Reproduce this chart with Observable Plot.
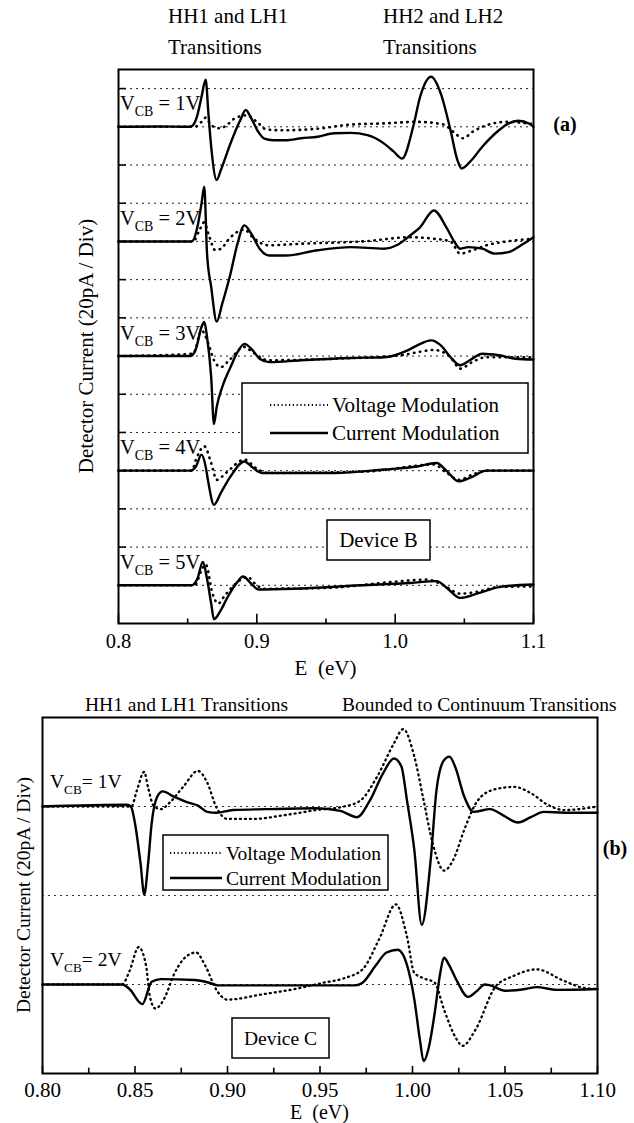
<!DOCTYPE html>
<html>
<head>
<meta charset="utf-8">
<script src="https://cdn.jsdelivr.net/npm/d3@7"></script>
<script src="https://cdn.jsdelivr.net/npm/@observablehq/plot@0.6"></script>
<style>
  html, body { margin: 0; padding: 0; background: #fff; }
  #wrap { position: relative; width: 634px; height: 1123px; overflow: hidden; background: #fff; font-family: 'Liberation Serif', 'Times New Roman', Times, serif; }
  #wrap svg { position: absolute; left: 0; display: block; }
</style>
</head>
<body>
<div id="wrap"></div>
<script>
// ---------------- DATA ----------------
// Panel (a): Device B. Offsets in divisions (20 pA / Div) relative to each trace's baseline.
const vcbLabelsA = ["1V", "2V", "3V", "4V", "5V"];
const baselinesA = [13, 10, 7, 4, 1];
const gridA = [1, 2, 3, 4, 5, 6, 7, 8, 9, 10, 11, 12, 13, 14];
const xTicksA = [0.8, 0.9, 1.0, 1.1];
const xMinorA = [0.85, 0.95, 1.05];

const a1Current = [[0.800,0],[0.830,0.01],[0.850,0],[0.853,0.02],[0.857,0.30],[0.860,0.78],[0.863,1.23],[0.865,0.35],[0.867,-0.52],[0.871,-1.39],[0.874,-1.13],[0.881,-0.43],[0.888,0.17],[0.892,0.44],[0.896,0.22],[0.901,-0.13],[0.905,-0.30],[0.912,-0.35],[0.922,-0.35],[0.932,-0.30],[0.944,-0.26],[0.956,-0.17],[0.968,-0.16],[0.980,-0.22],[0.992,-0.44],[0.999,-0.65],[1.005,-0.83],[1.013,0.0],[1.018,0.78],[1.026,1.31],[1.033,0.87],[1.040,-0.09],[1.045,-0.87],[1.048,-1.09],[1.054,-0.92],[1.063,-0.52],[1.075,-0.09],[1.082,0.09],[1.089,0.16],[1.097,0.08],[1.100,0.0]];
const a1Voltage = [[0.800,0],[0.855,0],[0.860,0.13],[0.863,0.24],[0.866,0.09],[0.870,-0.02],[0.874,-0.04],[0.878,0.04],[0.885,0.24],[0.893,0.30],[0.900,0.13],[0.907,-0.07],[0.919,-0.09],[0.944,-0.05],[0.968,0.06],[0.992,0.09],[1.016,0.13],[1.035,0.06],[1.042,-0.13],[1.049,-0.30],[1.056,-0.13],[1.066,0.04],[1.081,0.13],[1.093,0.10],[1.100,0.07]];

const a2Current = [[0.800,0],[0.853,0],[0.857,0.37],[0.860,0.99],[0.862,1.43],[0.864,-0.32],[0.867,-1.19],[0.871,-2.10],[0.875,-1.63],[0.881,-0.84],[0.886,-0.06],[0.891,0.42],[0.896,0.20],[0.902,-0.19],[0.909,-0.37],[0.921,-0.37],[0.944,-0.23],[0.968,-0.15],[0.992,-0.19],[1.001,-0.10],[1.011,0.16],[1.018,0.37],[1.028,0.81],[1.037,0.37],[1.043,-0.02],[1.047,-0.19],[1.053,-0.15],[1.063,-0.19],[1.072,-0.32],[1.082,-0.28],[1.091,-0.10],[1.100,0.11]];
const a2Voltage = [[0.800,0],[0.854,0],[0.858,0.25],[0.862,0.50],[0.865,0.20],[0.870,-0.23],[0.874,-0.19],[0.881,0.11],[0.891,0.31],[0.897,0.11],[0.908,-0.10],[0.932,-0.06],[0.980,0.01],[1.011,0.11],[1.028,0.07],[1.040,0.0],[1.047,-0.32],[1.056,-0.23],[1.066,-0.10],[1.081,0.0],[1.100,0.07]];

const a3Current = [[0.800,0],[0.852,0],[0.856,0.19],[0.860,0.76],[0.862,0.89],[0.864,0.50],[0.867,-0.55],[0.869,-1.78],[0.871,-1.33],[0.875,-0.81],[0.881,-0.29],[0.886,0.10],[0.891,0.32],[0.897,0.15],[0.902,-0.07],[0.909,-0.16],[0.932,-0.11],[0.968,-0.05],[0.992,-0.03],[1.009,0.15],[1.016,0.28],[1.026,0.41],[1.033,0.28],[1.040,-0.03],[1.047,-0.24],[1.054,-0.11],[1.063,0.06],[1.075,0.02],[1.087,-0.07],[1.100,-0.09]];
const a3Voltage = [[0.800,0],[0.854,0.06],[0.860,0.67],[0.865,0.32],[0.869,-0.11],[0.874,-0.29],[0.880,-0.11],[0.891,0.24],[0.897,0.10],[0.908,-0.11],[0.956,-0.07],[1.004,0.02],[1.016,0.10],[1.028,0.16],[1.040,-0.03],[1.047,-0.33],[1.056,-0.15],[1.066,-0.03],[1.100,-0.03]];

const a4Current = [[0.800,0],[0.852,0],[0.856,0.11],[0.860,0.42],[0.863,0.11],[0.865,-0.32],[0.869,-0.89],[0.874,-0.58],[0.881,-0.15],[0.891,0.24],[0.897,0.08],[0.904,-0.06],[0.956,-0.06],[0.992,0.03],[1.016,0.11],[1.030,0.20],[1.037,0.0],[1.046,-0.28],[1.054,-0.19],[1.066,0.0],[1.100,0]];
const a4Voltage = [[0.800,0],[0.853,0],[0.856,0.29],[0.862,0.64],[0.867,0.20],[0.871,-0.24],[0.878,-0.05],[0.891,0.29],[0.900,0.05],[0.908,-0.06],[0.980,-0.02],[1.028,0.16],[1.037,-0.05],[1.046,-0.24],[1.056,-0.10],[1.066,0.0],[1.100,0]];

const a5Current = [[0.800,0],[0.853,0],[0.857,0.17],[0.861,0.61],[0.864,0.17],[0.867,-0.48],[0.869,-0.89],[0.874,-0.65],[0.879,-0.30],[0.886,0.09],[0.890,0.23],[0.896,0.04],[0.901,-0.11],[0.927,-0.09],[0.975,0.0],[1.011,0.06],[1.030,0.11],[1.038,-0.09],[1.047,-0.33],[1.059,-0.22],[1.076,-0.04],[1.100,0.02]];
const a5Voltage = [[0.800,0],[0.855,0],[0.860,0.39],[0.863,0.55],[0.868,-0.22],[0.872,-0.48],[0.877,-0.26],[0.885,0.05],[0.893,0.22],[0.900,0.0],[0.905,-0.09],[0.950,-0.07],[0.999,0.09],[1.023,0.15],[1.035,0.0],[1.047,-0.22],[1.059,-0.17],[1.076,-0.04],[1.100,-0.03]];

// Panel (b): Device C
const vcbLabelsB = ["1V", "2V"];
const baselinesB = [3, 1];
const gridB = [1, 2, 3];
const xTicksB = [0.80, 0.85, 0.90, 0.95, 1.00, 1.05, 1.10];
const xMinorB = [0.825, 0.875, 0.925, 0.975, 1.025, 1.075];

const b1Current = [[0.800,0],[0.846,0.02],[0.848,-0.01],[0.850,-0.19],[0.853,-0.64],[0.855,-0.99],[0.857,-0.66],[0.859,-0.19],[0.862,0.11],[0.865,0.17],[0.871,0.11],[0.878,0.05],[0.884,0.01],[0.889,-0.06],[0.894,-0.07],[0.903,-0.04],[0.921,-0.03],[0.948,-0.02],[0.961,-0.05],[0.970,-0.12],[0.977,0.07],[0.984,0.37],[0.990,0.54],[0.994,0.45],[0.997,0.07],[1.001,-0.49],[1.005,-1.33],[1.010,-0.56],[1.013,0.19],[1.017,0.52],[1.020,0.56],[1.023,0.45],[1.028,0.11],[1.033,-0.06],[1.042,-0.03],[1.049,-0.10],[1.057,-0.18],[1.064,-0.12],[1.071,-0.06],[1.082,-0.07],[1.100,-0.07]];
const b1Voltage = [[0.800,0],[0.848,0],[0.851,0.18],[0.855,0.39],[0.857,0.22],[0.860,0.01],[0.864,-0.03],[0.869,0.05],[0.876,0.22],[0.884,0.40],[0.889,0.27],[0.894,-0.01],[0.900,-0.14],[0.914,-0.14],[0.930,-0.10],[0.948,-0.04],[0.963,0.0],[0.972,0.07],[0.981,0.34],[0.990,0.71],[0.995,0.87],[1.001,0.56],[1.006,0.07],[1.011,-0.42],[1.017,-0.72],[1.022,-0.60],[1.028,-0.26],[1.035,0.06],[1.044,0.19],[1.055,0.22],[1.064,0.15],[1.073,0.02],[1.082,-0.04],[1.100,0.0]];

const b2Current = [[0.800,0],[0.843,0],[0.847,-0.05],[0.854,-0.22],[0.859,0.03],[0.864,0.06],[0.882,0.05],[0.890,0.02],[0.895,-0.01],[0.969,-0.01],[0.973,0.02],[0.980,0.21],[0.986,0.36],[0.992,0.39],[0.997,0.22],[1.001,-0.17],[1.004,-0.62],[1.006,-0.86],[1.009,-0.69],[1.012,-0.32],[1.015,0.13],[1.017,0.30],[1.020,0.21],[1.024,0.04],[1.030,-0.14],[1.035,-0.07],[1.039,0.0],[1.042,-0.01],[1.050,-0.07],[1.061,-0.05],[1.067,-0.03],[1.078,-0.06],[1.100,-0.05]];
const b2Voltage = [[0.800,0],[0.843,0],[0.847,0.15],[0.852,0.42],[0.856,0.21],[0.858,-0.13],[0.861,-0.27],[0.866,-0.15],[0.871,0.11],[0.876,0.28],[0.883,0.36],[0.888,0.21],[0.894,-0.06],[0.900,-0.17],[0.919,-0.11],[0.934,-0.06],[0.952,0.02],[0.963,0.07],[0.973,0.17],[0.982,0.51],[0.991,0.90],[0.997,0.54],[1.001,0.13],[1.006,0.07],[1.012,0.02],[1.017,-0.28],[1.024,-0.62],[1.027,-0.69],[1.034,-0.51],[1.045,-0.02],[1.054,0.09],[1.067,0.17],[1.082,0.04],[1.093,-0.04],[1.100,-0.05]];

// ---------------- BUILD TABLES ----------------
function toRows(seriesList, baselines, labels) {
  return seriesList.flatMap((s, i) => s.map(([E, d]) => ({E, y: baselines[i] + d, vcb: labels[i]})));
}
const rowsAC = toRows([a1Current, a2Current, a3Current, a4Current, a5Current], baselinesA, vcbLabelsA);
const rowsAV = toRows([a1Voltage, a2Voltage, a3Voltage, a4Voltage, a5Voltage], baselinesA, vcbLabelsA);
const rowsBC = toRows([b1Current, b2Current], baselinesB, vcbLabelsB);
const rowsBV = toRows([b1Voltage, b2Voltage], baselinesB, vcbLabelsB);

const FONT = "'Liberation Serif','Times New Roman',Times,serif";
const wrap = document.getElementById("wrap");

// ---------------- PANEL (a) ----------------
const svgA = Plot.plot({
  width: 634, height: 690,
  marginTop: 69, marginRight: 101, marginBottom: 67, marginLeft: 118,
  x: {domain: [0.8, 1.1], axis: null},
  y: {domain: [0, 14.5], axis: null},
  style: {fontFamily: FONT, fontSize: "20.5px", color: "#000", background: "transparent", overflow: "visible"},
  marks: [
    Plot.ruleY(gridA, {stroke: "#222", strokeWidth: 1, strokeDasharray: "2,4"}),
    Plot.line(rowsAV, {x: "E", y: "y", z: "vcb", curve: "monotone-x", stroke: "#000", strokeWidth: 2.6, strokeDasharray: "0.5,5.5", strokeLinecap: "round"}),
    Plot.line(rowsAC, {x: "E", y: "y", z: "vcb", curve: "monotone-x", stroke: "#000", strokeWidth: 2.4}),
    Plot.frame({stroke: "#000", strokeWidth: 2}),
    Plot.ruleY(gridA, {x1: 0.8, x2: 0.8058, stroke: "#000", strokeWidth: 1.6}),
    Plot.ruleX(xTicksA, {y1: 0, y2: 0.24, stroke: "#000", strokeWidth: 1.6}),
    Plot.ruleX(xMinorA, {y1: 0, y2: 0.12, stroke: "#000", strokeWidth: 1.6}),
    Plot.axisX(xTicksA, {tickSize: 0, tickPadding: 10, tickFormat: d3.format(".1f"), label: null, fontFamily: FONT, fontSize: 20.5})
  ]
});
svgA.style.top = "0px";
wrap.appendChild(svgA);

// ---------------- PANEL (b) ----------------
const svgB = Plot.plot({
  width: 634, height: 433,
  marginTop: 27, marginRight: 37, marginBottom: 50, marginLeft: 42,
  x: {domain: [0.8, 1.1], axis: null},
  y: {domain: [0, 4], axis: null},
  style: {fontFamily: FONT, fontSize: "21px", color: "#000", background: "transparent", overflow: "visible"},
  marks: [
    Plot.ruleY(gridB, {stroke: "#333", strokeWidth: 1.1, strokeDasharray: "2,4"}),
    Plot.line(rowsBV, {x: "E", y: "y", z: "vcb", curve: "monotone-x", stroke: "#000", strokeWidth: 2.3, strokeDasharray: "1,4", strokeLinecap: "round"}),
    Plot.line(rowsBC, {x: "E", y: "y", z: "vcb", curve: "monotone-x", stroke: "#000", strokeWidth: 2.4}),
    Plot.frame({stroke: "#000", strokeWidth: 2}),
    Plot.ruleX(xTicksB, {y1: 0, y2: 0.08, stroke: "#000", strokeWidth: 1.6}),
    Plot.ruleX(xMinorB, {y1: 0, y2: 0.06, stroke: "#000", strokeWidth: 1.6}),
    Plot.axisX(xTicksB, {tickSize: 0, tickPadding: 9, tickFormat: d3.format(".2f"), label: null, fontFamily: FONT, fontSize: 21})
  ]
});
svgB.style.top = "690px";
wrap.appendChild(svgB);

// ---------------- ANNOTATIONS ----------------
function txt(g, x, y, s, fs, opts = {}) {
  const t = g.append("text").attr("x", x).attr("y", y).attr("font-size", fs)
    .attr("font-family", FONT).attr("fill", "#000")
    .attr("text-anchor", opts.anchor || "start").text(s);
  if (opts.bold) t.attr("font-weight", "bold");
  if (opts.rotate) t.attr("transform", `rotate(-90 ${x} ${y})`);
  return t;
}
function vcb(g, x, y, val, fs, spaced) {
  const t = g.append("text").attr("x", x).attr("y", y).attr("font-size", fs)
    .attr("font-family", FONT).attr("fill", "#000").attr("text-anchor", "start");
  t.append("tspan").text("V");
  t.append("tspan").attr("font-size", fs * 0.68).attr("dy", fs * 0.3).text("CB");
  t.append("tspan").attr("dy", -fs * 0.3).text((spaced ? " = " : "= ") + val);
}
function legend(g, x, y, w, h, rows, fs, lx1, lx2, tx) {
  g.append("rect").attr("x", x).attr("y", y).attr("width", w).attr("height", h)
    .attr("fill", "#fff").attr("stroke", "#000").attr("stroke-width", 1.5);
  rows.forEach(r => {
    g.append("line").attr("x1", lx1).attr("x2", lx2).attr("y1", r.y).attr("y2", r.y)
      .attr("stroke", "#000").attr("stroke-width", r.dotted ? 2.2 : 2.4)
      .attr("stroke-dasharray", r.dotted ? "1.2,2.6" : null);
    txt(g, tx, r.y + 7, r.label, fs);
  });
}
function box(g, x, y, w, h, label, fs) {
  g.append("rect").attr("x", x).attr("y", y).attr("width", w).attr("height", h)
    .attr("fill", "#fff").attr("stroke", "#000").attr("stroke-width", 1.5);
  txt(g, x + w / 2, y + h / 2 + 7, label, fs, {anchor: "middle"});
}

// Panel (a)
{
  const g = d3.select(svgA).append("g");
  const sy = svgA.scale("y");
  txt(g, 168, 23, "HH1 and LH1", 21);
  txt(g, 168, 54, "Transitions", 21);
  txt(g, 383, 23, "HH2 and LH2", 21);
  txt(g, 383, 54, "Transitions", 21);
  txt(g, 565, 131, "(a)", 20, {anchor: "middle", bold: true});
  txt(g, 93, 346, "Detector Current (20pA / Div)", 21, {anchor: "middle", rotate: true});
  baselinesA.forEach((b, i) => vcb(g, 120, sy.apply(b) - 16, vcbLabelsA[i], 20.5, true));
  legend(g, 242, 383, 286, 70, [
    {y: 405, label: "Voltage Modulation", dotted: true},
    {y: 433, label: "Current Modulation", dotted: false}
  ], 21, 270, 328, 332);
  box(g, 327, 520, 103, 40, "Device B", 21);
  txt(g, 325.5, 675, "E\u2002(eV)", 21, {anchor: "middle"});
}

// Panel (b)
{
  const g = d3.select(svgB).append("g");
  const sy = svgB.scale("y");
  txt(g, 85, 21, "HH1 and LH1 Transitions", 19.5);
  txt(g, 342, 21, "Bounded to Continuum Transitions", 19.5);
  txt(g, 615, 165, "(b)", 20, {anchor: "middle", bold: true});
  txt(g, 30, 205, "Detector Current (20pA / Div)", 19.5, {anchor: "middle", rotate: true});
  baselinesB.forEach((b, i) => vcb(g, 50, sy.apply(b) - 18, vcbLabelsB[i], 19.5, false));
  legend(g, 163, 145, 225, 55, [
    {y: 163, label: "Voltage Modulation", dotted: true},
    {y: 188, label: "Current Modulation", dotted: false}
  ], 19.5, 170, 222, 226);
  box(g, 232, 328, 97, 40, "Device C", 19.5);
  txt(g, 319.5, 429, "E\u2002(eV)", 20, {anchor: "middle"});
}
</script>
</body>
</html>
